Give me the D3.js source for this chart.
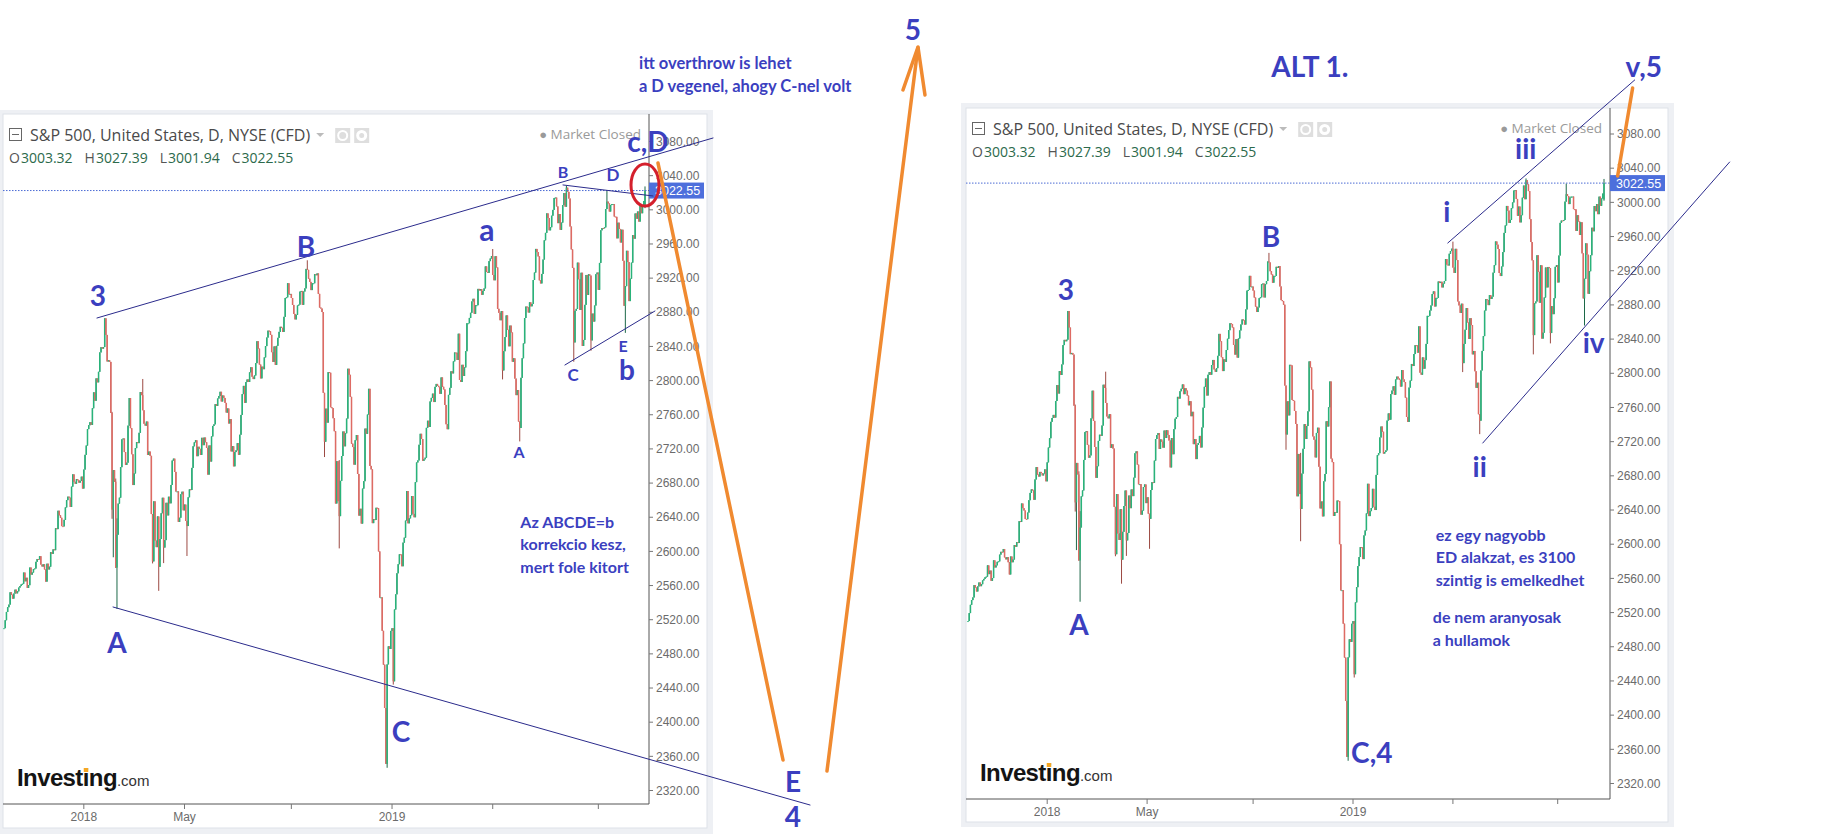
<!DOCTYPE html>
<html>
<head>
<meta charset="utf-8">
<script src="https://cdn.jsdelivr.net/npm/d3@7"></script>
<style>
  body { margin: 0; background: #fff; }
  svg { display: block; }
  .title { font-family: "Open Sans", sans-serif; font-size: 16px; fill: #4a4a4a; }
  .ohlc { font-family: "Open Sans", sans-serif; font-size: 14px; }
  .mkt { font-family: "Open Sans", sans-serif; font-size: 13.5px; fill: #9a9a9a; }
  .axis-label { font-family: "Liberation Sans", Arial, sans-serif; font-size: 12px; fill: #6b6b6b; }
  .note { font-family: Lato, "Open Sans", sans-serif; font-weight: 700; fill: #3b3fbf; }
</style>
</head>
<body>
<svg width="1822" height="834"></svg>
<script>
// daily closes, S&P 500 CFD, 2017-09-28 .. 2019-10-25
var closes2017 = [2510.1, 2519.4,
  2529.1, 2534.6, 2537.7, 2552.1, 2549.3, 2544.7, 2550.6, 2555.2, 2550.9, 2553.2, 2557.6,
  2559.4, 2561.3, 2562.1, 2575.2, 2565.0, 2569.1, 2557.2, 2560.4, 2581.1, 2572.8, 2575.3,
  2579.4, 2579.9, 2587.8, 2591.1, 2590.6, 2594.4, 2584.6, 2582.3, 2584.8, 2578.9, 2564.6,
  2585.6, 2578.9, 2582.1, 2599.0, 2597.1, 2602.4, 2601.4, 2627.0, 2626.1, 2647.6,
  2642.2, 2639.4, 2629.6, 2629.3, 2637.0, 2651.5, 2660.0, 2664.1, 2662.9, 2652.0,
  2675.8, 2690.2, 2681.5, 2679.2, 2684.6, 2683.3, 2680.5, 2682.6, 2687.5, 2673.6];

var closes2018 = [
  2695.8, 2713.1, 2724.0, 2743.2, 2747.7, 2751.3, 2748.2, 2767.6, 2786.2, 2776.4, 2802.6,
  2798.0, 2810.3, 2833.0, 2839.1, 2837.5, 2839.3, 2872.9, 2853.5, 2822.4, 2823.8,
  2821.9, 2762.1, 2648.9, 2695.1, 2681.7, 2581.0, 2619.6, 2656.0, 2662.9, 2698.6,
  2731.2, 2732.2, 2716.3, 2701.3, 2703.9, 2747.3, 2779.6, 2744.3, 2713.8,
  2677.7, 2691.3, 2720.9, 2728.1, 2726.8, 2738.9, 2786.6, 2783.0, 2765.3, 2749.5, 2747.3,
  2752.0, 2712.9, 2716.9, 2711.9, 2643.7, 2588.3, 2658.6, 2612.6, 2605.0, 2640.9,
  2581.9, 2614.5, 2644.7, 2662.8, 2604.5, 2613.2, 2656.9, 2642.2, 2664.0, 2656.3, 2677.8,
  2706.4, 2708.6, 2693.1, 2670.1, 2670.3, 2634.6, 2639.4, 2666.9, 2669.9, 2648.1,
  2654.8, 2635.7, 2629.7, 2663.4, 2672.6, 2671.9, 2697.8, 2723.1, 2727.7, 2730.1, 2711.5,
  2722.5, 2720.1, 2713.0, 2733.0, 2724.4, 2733.3, 2727.8, 2721.3, 2689.9, 2724.0, 2705.3,
  2734.6, 2746.9, 2748.8, 2772.4, 2770.4, 2779.0, 2782.0, 2786.9, 2775.6, 2782.5, 2779.7,
  2773.9, 2762.6, 2767.3, 2749.8, 2754.9, 2717.1, 2723.1, 2699.6, 2716.3, 2718.4,
  2726.7, 2713.2, 2736.6, 2759.8, 2784.2, 2793.8, 2774.0, 2798.3, 2801.3, 2798.4, 2809.6,
  2815.6, 2804.5, 2801.8, 2806.0, 2820.4, 2846.1, 2837.4, 2818.8, 2802.6, 2816.3,
  2813.4, 2827.2, 2840.4, 2850.4, 2858.5, 2857.7, 2853.6, 2833.3, 2821.9, 2840.0, 2818.4,
  2840.7, 2850.1, 2857.1, 2863.0, 2861.8, 2857.0, 2874.7, 2896.7, 2897.5, 2914.0, 2901.1, 2901.5,
  2896.7, 2888.6, 2878.1, 2871.7, 2877.1, 2887.9, 2888.9, 2904.2, 2905.0, 2888.8,
  2904.3, 2908.0, 2930.8, 2929.7, 2919.4, 2915.6, 2906.0, 2914.0, 2914.0,
  2924.6, 2923.4, 2925.5, 2901.6, 2885.6, 2884.4, 2880.3, 2785.7, 2728.4, 2767.1, 2750.8, 2809.9,
  2809.2, 2768.8, 2767.8, 2755.9, 2740.7, 2656.1, 2705.6, 2658.7, 2641.3, 2682.6, 2711.7,
  2740.4, 2723.1, 2738.3, 2755.5, 2813.9, 2806.8, 2781.0, 2726.2, 2722.2, 2701.6, 2730.2,
  2736.3, 2690.7, 2641.9, 2649.9, 2632.6, 2673.5, 2682.2, 2743.8, 2737.8, 2760.2,
  2790.4, 2700.1, 2696.0, 2633.1, 2637.7, 2636.8, 2651.1, 2650.5, 2600.0, 2545.9,
  2546.2, 2507.0, 2467.4, 2416.6, 2351.1, 2467.7, 2488.8, 2485.7, 2506.9];

var closes2019 = [
  2510.0, 2447.9, 2531.9, 2549.7, 2574.4, 2585.0, 2596.6, 2596.3, 2582.6, 2610.3, 2616.1,
  2636.0, 2670.7, 2632.9, 2638.7, 2642.3, 2664.8, 2643.9, 2640.0, 2681.1, 2704.1,
  2706.5, 2724.9, 2737.7, 2731.6, 2706.1, 2707.9, 2709.8, 2744.7, 2753.0, 2745.7,
  2775.6, 2779.8, 2784.7, 2774.9, 2792.7, 2796.1, 2793.9, 2792.4, 2784.5,
  2803.7, 2792.8, 2789.7, 2771.5, 2748.9, 2743.1, 2783.3, 2791.5, 2810.9, 2808.5, 2822.5,
  2832.9, 2832.6, 2824.2, 2854.9, 2800.7, 2798.4, 2818.5, 2805.4, 2815.4, 2834.4,
  2867.2, 2867.2, 2873.4, 2879.4, 2892.7, 2895.8, 2878.2, 2888.2, 2888.3, 2907.4, 2905.6,
  2907.1, 2900.5, 2905.0, 2908.0, 2933.7, 2927.3, 2926.2, 2939.9, 2943.0, 2945.8,
  2923.7, 2917.5, 2945.6, 2932.5, 2884.1, 2879.4, 2870.7, 2881.4, 2811.9, 2834.4, 2851.0,
  2876.3, 2859.5, 2840.2, 2864.4, 2856.3, 2822.2, 2826.1, 2802.4, 2783.0, 2788.9, 2752.1,
  2744.5, 2803.3, 2826.2, 2843.5, 2873.3, 2886.7, 2885.7, 2879.8, 2891.6, 2887.0,
  2889.7, 2917.8, 2926.5, 2954.2, 2950.5, 2945.4, 2917.4, 2913.8, 2924.9, 2941.8,
  2964.3, 2973.0, 2995.8, 2990.4, 2976.0, 2979.6, 2993.1, 2999.9, 3013.8, 3014.3, 3004.0,
  2984.4, 2995.1, 2976.6, 2985.0, 3005.5, 3019.6, 3003.7, 3025.9, 3021.0, 3013.2, 2980.4,
  2953.6, 2932.1, 2844.7, 2881.8, 2884.0, 2938.1, 2918.7, 2882.7, 2926.3, 2840.6, 2847.6,
  2888.7, 2923.7, 2900.5, 2924.4, 2923.0, 2847.1, 2878.4, 2869.2, 2887.9, 2924.6, 2926.5,
  2906.3, 2937.8, 2976.0, 2978.7, 2978.4, 2979.4, 3000.9, 3009.6, 3007.4, 2998.0,
  3005.7, 3006.7, 3006.8, 2992.1, 2991.8, 2966.6, 2984.9, 2977.6, 2961.8, 2976.7,
  2940.3, 2887.6, 2910.6, 2952.0, 2938.8, 2893.1, 2919.4, 2938.1, 2970.3, 2966.2,
  2995.7, 2989.7, 2998.0, 2986.2, 3006.7, 2996.0, 3004.5, 3010.3, 3022.55];

// market holidays inside the range
var holidays = ["2017-11-23", "2017-12-25", "2018-01-01", "2018-01-15", "2018-02-19",
  "2018-03-30", "2018-05-28", "2018-07-04", "2018-09-03", "2018-11-22", "2018-12-05",
  "2018-12-25", "2019-01-01", "2019-01-21", "2019-02-18", "2019-04-19", "2019-05-27",
  "2019-07-04", "2019-09-02"];

// intraday extremes that stick out of the bodies
var wickDays  = ["2018-02-05", "2018-02-06", "2018-02-08", "2018-02-09", "2018-03-13", "2018-03-23",
  "2018-04-02", "2018-04-06", "2018-05-03", "2018-09-21", "2018-10-11", "2018-10-29", "2018-12-24",
  "2018-12-26", "2019-01-03", "2019-05-01", "2019-05-13", "2019-06-03", "2019-07-26", "2019-08-05",
  "2019-08-23", "2019-09-12", "2019-10-03"];
var wickHighs = [2763.4, null, 2685.3, 2638.7, 2801.9, null, null, null, null, 2940.9, null, 2706.9, null,
  null, null, 2954.1, null, null, 3028.0, null, null, 3022.0, null];
var wickLows  = [2638.2, 2593.1, 2580.6, 2532.7, null, 2585.9, 2553.8, 2586.3, 2594.6, null, 2710.5, 2603.5, 2351.1,
  2346.6, 2444.0, null, 2801.4, 2728.8, null, 2822.1, 2835.0, null, 2855.9];

// legend row of the last bar
var headerLabels = ["O", "H", "L", "C"];
var headerValues = [3003.32, 3027.39, 3001.94, 3022.55];

var priceTicks = [2320, 2360, 2400, 2440, 2480, 2520, 2560, 2600, 2640, 2680, 2720,
  2760, 2800, 2840, 2880, 2920, 2960, 3000, 3040, 3080];
var timeTicks = ["2018-01-02", "2018-05-01", "2018-09-04", "2019-01-02", "2019-05-01", "2019-09-03"];
var timeLabels = ["2018", "May", "", "2019", "", ""];

var titleText = "S&P 500, United States, D, NYSE (CFD)";

var svg = d3.select("svg");
var fmt = d3.timeFormat("%Y-%m-%d"), parse = d3.timeParse("%Y-%m-%d");

var closes = closes2017.concat(closes2018, closes2019);
var days = d3.timeDay.range(parse("2017-09-28"), parse("2019-10-26"))
  .filter(function(d) { var w = d.getDay(); return w > 0 && w < 6 && holidays.indexOf(fmt(d)) < 0; })
  .map(fmt);
var n = Math.min(days.length, closes.length);

var bars = [];
for (var i = 0; i < n; i++) {
  var o = i ? closes[i - 1] : closes[0], c = closes[i];
  var h = Math.max(o, c), l = Math.min(o, c);
  var k = wickDays.indexOf(days[i]);
  if (k >= 0) {
    if (wickHighs[k] != null) h = Math.max(h, wickHighs[k]);
    if (wickLows[k] != null) l = Math.min(l, wickLows[k]);
  }
  bars.push({i: i, o: o, h: h, l: l, c: c});
}
var last = bars[n - 1];
last.o = headerValues[0]; last.h = headerValues[1]; last.l = headerValues[2]; last.c = headerValues[3];

var charts = [
  {id: "L", outer: [0, 110, 713, 724], inner: [3, 114, 704, 714], axisX: 649, axisY: 804,
   xr: [4, 645], yr: [790.5, 141.5], titleY: 141, ohlcY: 163},
  {id: "R", outer: [961, 103, 713, 724], inner: [966, 108, 702, 714], axisX: 1610, axisY: 799,
   xr: [968, 1604], yr: [783.5, 134], titleY: 135, ohlcY: 157}
];

charts.forEach(function(cfg) {
  cfg.x = d3.scaleLinear().domain([0, n - 1]).range(cfg.xr);
  cfg.y = d3.scaleLinear().domain([2320, 3080]).range(cfg.yr);
  drawChart(cfg);
});

function drawChart(cfg) {
  var g = svg.append("g");
  var ix = cfg.inner[0], iy = cfg.inner[1], iw = cfg.inner[2], ih = cfg.inner[3];
  g.append("rect").attr("x", cfg.outer[0]).attr("y", cfg.outer[1])
    .attr("width", cfg.outer[2]).attr("height", cfg.outer[3]).attr("fill", "#eef0f4");
  g.append("rect").attr("x", ix).attr("y", iy).attr("width", iw).attr("height", ih)
    .attr("fill", "#fff").attr("stroke", "#dde1e8");

  g.append("clipPath").attr("id", "clip" + cfg.id).append("rect")
    .attr("x", ix).attr("y", iy).attr("width", cfg.axisX - ix).attr("height", cfg.axisY - iy);

  // candles
  var cg = g.append("g").attr("clip-path", "url(#clip" + cfg.id + ")");
  var x = cfg.x, y = cfg.y;
  cg.selectAll("line.wick").data(bars).enter().append("line")
    .attr("x1", function(d) { return x(d.i); }).attr("x2", function(d) { return x(d.i); })
    .attr("y1", function(d) { return y(d.h); }).attr("y2", function(d) { return y(d.l); })
    .attr("stroke", function(d) { return d.c >= d.o ? "#1c6848" : "#9c4a43"; })
    .attr("stroke-width", 1);
  cg.selectAll("rect.body").data(bars).enter().append("rect")
    .attr("x", function(d) { return x(d.i) - 0.75; }).attr("width", 1.5)
    .attr("y", function(d) { return y(Math.max(d.o, d.c)); })
    .attr("height", function(d) { return Math.max(1, Math.abs(y(d.o) - y(d.c))); })
    .attr("fill", function(d) { return d.c >= d.o ? "#29b37a" : "#de6b64"; });

  // last price line
  g.append("line").attr("x1", ix).attr("x2", cfg.axisX)
    .attr("y1", y(last.c)).attr("y2", y(last.c))
    .attr("stroke", "#4a6bd4").attr("stroke-dasharray", "1.5,1.5");

  // axes
  g.append("line").attr("x1", cfg.axisX).attr("x2", cfg.axisX).attr("y1", iy).attr("y2", cfg.axisY)
    .attr("stroke", "#555");
  g.append("line").attr("x1", ix).attr("x2", cfg.axisX).attr("y1", cfg.axisY).attr("y2", cfg.axisY)
    .attr("stroke", "#555");
  priceTicks.forEach(function(p) {
    g.append("line").attr("x1", cfg.axisX).attr("x2", cfg.axisX + 4)
      .attr("y1", y(p)).attr("y2", y(p)).attr("stroke", "#777");
    g.append("text").attr("class", "axis-label").attr("x", cfg.axisX + 7).attr("y", y(p))
      .attr("dy", "0.35em").text(p.toFixed(2));
  });
  timeTicks.forEach(function(t, j) {
    var ti = days.indexOf(t);
    if (ti < 0) return;
    g.append("line").attr("x1", x(ti)).attr("x2", x(ti)).attr("y1", cfg.axisY).attr("y2", cfg.axisY + 5)
      .attr("stroke", "#777");
    g.append("text").attr("class", "axis-label").attr("x", x(ti)).attr("y", cfg.axisY + 17)
      .attr("text-anchor", "middle").attr("fill", "#555").text(timeLabels[j]);
  });

  // price flag
  g.append("rect").attr("x", cfg.axisX).attr("y", y(last.c) - 8).attr("width", 55).attr("height", 16)
    .attr("fill", "#4d6fdc");
  g.append("text").attr("class", "axis-label").style("fill", "#fff").style("font-size", "12.5px")
    .attr("x", cfg.axisX + 6).attr("y", y(last.c)).attr("dy", "0.36em").text(last.c.toFixed(2));

  // legend header
  var hx = ix + 6;
  g.append("rect").attr("x", hx + 0.5).attr("y", cfg.titleY - 12.5).attr("width", 12).attr("height", 12)
    .attr("fill", "none").attr("stroke", "#666");
  g.append("line").attr("x1", hx + 3).attr("x2", hx + 10).attr("y1", cfg.titleY - 6.5).attr("y2", cfg.titleY - 6.5)
    .attr("stroke", "#666");
  var title = g.append("text").attr("class", "title").attr("x", hx + 21).attr("y", cfg.titleY).text(titleText);
  var tEnd = hx + 21 + title.node().getComputedTextLength();
  g.append("path").attr("d", "M" + (tEnd + 6) + "," + (cfg.titleY - 8) + "h8l-4,4z").attr("fill", "#bbb");
  [tEnd + 25, tEnd + 44].forEach(function(px, j) {
    g.append("rect").attr("x", px).attr("y", cfg.titleY - 13).attr("width", 15).attr("height", 15).attr("fill", "#dedede");
    g.append("circle").attr("cx", px + 7.5).attr("cy", cfg.titleY - 5.5).attr("r", j ? 4 : 4.5)
      .attr("fill", "none").attr("stroke", "#fff").attr("stroke-width", j ? 3 : 2);
  });
  var row = g.append("text").attr("class", "ohlc").attr("x", hx).attr("y", cfg.ohlcY);
  headerLabels.forEach(function(lab, j) {
    row.append("tspan").attr("dx", j ? 12 : 0).attr("fill", "#555").text(lab);
    row.append("tspan").attr("dx", 1).attr("fill", "#2c6a4c").text(headerValues[j].toFixed(2));
  });
  var mk = g.append("text").attr("class", "mkt").attr("x", cfg.axisX - 8).attr("y", cfg.titleY - 2)
    .attr("text-anchor", "end");
  mk.append("tspan").style("font-size", "13px").text("\u25CF ");
  mk.append("tspan").text("Market Closed");

  // watermark
  var lx = ix + 14, ly = cfg.axisY - 18;
  var logo = g.append("text").attr("x", lx).attr("y", ly)
    .style("font-family", "'Liberation Sans', Arial, sans-serif");
  logo.append("tspan").style("font-weight", 700).style("font-size", "24px").style("letter-spacing", "-0.6px")
    .attr("fill", "#141414").text("Investing");
  logo.append("tspan").style("font-size", "15px").attr("fill", "#333").text(".com");
  var iDot = lx + logo.node().getSubStringLength(0, 6);
  g.append("rect").attr("x", iDot + 1).attr("y", ly - 18).attr("width", 4.5).attr("height", 4).attr("fill", "#f5a623");
}

// ---- hand-drawn wave count ----
var navy = "#2b2b8c", orange = "#f08a30";
function seg(cfg, a, b, color, w) {
  return svg.append("line").attr("x1", cfg.x(a[0])).attr("y1", cfg.y(a[1]))
    .attr("x2", cfg.x(b[0])).attr("y2", cfg.y(b[1]))
    .attr("stroke", color).attr("stroke-width", w).attr("stroke-linecap", "round");
}
function note(cfg, t, at, size, anchor) {
  svg.append("text").attr("class", "note").attr("x", cfg.x(at[0])).attr("y", cfg.y(at[1]))
    .attr("dy", "0.36em").attr("text-anchor", anchor || "middle")
    .style("font-size", size + "px").text(t);
}

var L = charts[0], R = charts[1];

seg(L, [75.7, 2873.3], [577.4, 3084.1], navy, 1);
seg(L, [88.8, 2534.9], [656.4, 2303.0], navy, 1);
seg(L, [455.2, 3029.1], [528.5, 3016.2], navy, 1);
seg(L, [456.8, 2818.3], [530.1, 2881.5], navy, 1);
svg.append("ellipse").attr("cx", L.x(522)).attr("cy", L.y(3029.1)).attr("rx", 14).attr("ry", 21)
  .attr("fill", "none").attr("stroke", "#d4202c").attr("stroke-width", 3);
seg(L, [532.6, 3054.8], [634.4, 2355.7], orange, 3.5);
seg(L, [670.2, 2342.8], [744.3, 3190.7], orange, 3.5);
var tipX = L.x(744.3), tipY = L.y(3190.7);
svg.append("path").attr("d", "M" + (tipX - 15) + "," + (tipY + 43) + "L" + tipX + "," + tipY + "L" + (tipX + 7) + "," + (tipY + 48))
  .attr("fill", "none").attr("stroke", orange).attr("stroke-width", 3.5).attr("stroke-linecap", "round");

note(L, "itt overthrow is lehet", [517.1, 3171.9], 16.5, "start");
note(L, "a D vegenel, ahogy C-nel volt", [517.1, 3145.0], 16.5, "start");
note(L, "5", [740.2, 3210.6], 28);
note(L, "3", [76.5, 2899.1], 28);
note(L, "B", [245.9, 2956.5], 28);
note(L, "a", [393.3, 2976.4], 30);
note(L, "B", [455.2, 3044.3], 16);
note(L, "c,D", [524.4, 3079.4], 28);
note(L, "D", [495.9, 3040.8], 17);
note(L, "C", [463.4, 2806.6], 17);
note(L, "E", [504.1, 2840.5], 16);
note(L, "b", [507.3, 2812.4], 28);
note(L, "A", [419.4, 2716.0], 16);
note(L, "A", [92.0, 2492.7], 28);
note(L, "C", [323.3, 2388.5], 28);
note(L, "E", [642.5, 2330.0], 28);
note(L, "4", [642.5, 2289.0], 28);
note(L, "Az ABCDE=b", [420.5, 2634.4], 16, "start");
note(L, "korrekcio kesz,", [420.5, 2608.1], 16, "start");
note(L, "mert fole kitort", [420.5, 2581.7], 16, "start");

seg(R, [393.8, 2952.5], [547.2, 3143.2], navy, 1);
seg(R, [422.5, 2718.4], [625.1, 3047.2], navy, 1);
seg(R, [533.2, 3030.9], [545.5, 3133.8], orange, 3.5);

note(R, "ALT 1.", [280.6, 3158.4], 28);
note(R, "v,5", [554.6, 3158.4], 28);
note(R, "3", [80.4, 2897.5], 28);
note(R, "A", [91.1, 2505.5], 28);
note(R, "B", [248.6, 2959.5], 28);
note(R, "C,4", [331.4, 2355.7], 28);
note(R, "i", [392.9, 2988.7], 28);
note(R, "ii", [420.0, 2690.3], 28);
note(R, "iii", [457.8, 3062.5], 28);
note(R, "iv", [513.5, 2835.4], 28);
note(R, "ez egy nagyobb", [383.9, 2610.8], 16, "start");
note(R, "ED alakzat, es 3100", [383.9, 2584.5], 16, "start");
note(R, "szintig is emelkedhet", [383.9, 2558.1], 16, "start");
note(R, "de nem aranyosak", [381.5, 2514.8], 16, "start");
note(R, "a hullamok", [381.5, 2488.0], 16, "start");
</script>
</body>
</html>
